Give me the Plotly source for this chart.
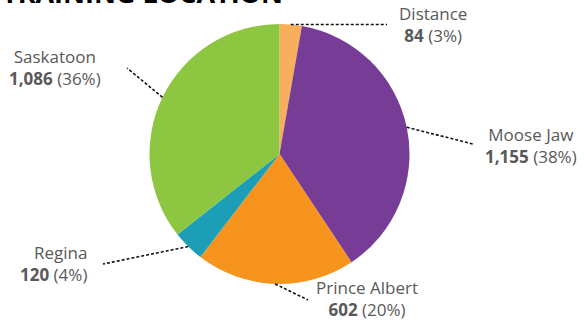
import numpy as np
import plotly.graph_objects as go

categories = ["Distance", "Moose Jaw", "Prince Albert", "Regina", "Saskatoon"]
values = [84, 1155, 602, 120, 1086]
colors = ["#F9AE5B", "#763C96", "#F7941D", "#1C9FB6", "#8DC641"]
title_text = "TRAINING LOCATION"

W, H = 584, 322
CX, CY, R = 279.5, 154.0, 130.0

def px(x):
    return x / W

def py(y):
    return 1 - y / H

# label layout (pixel positions of text and leader line ends)
label_pos = {
    "Distance": dict(x=433, y=25, xanchor="center", align="center", end=(387, 24.5)),
    "Moose Jaw": dict(x=531, y=145, xanchor="center", align="center", end=(473, 144)),
    "Prince Albert": dict(x=367, y=298, xanchor="center", align="center", end=(308, 300)),
    "Regina": dict(x=89, y=263, xanchor="right", align="right", end=(103, 264)),
    "Saskatoon": dict(x=55, y=67, xanchor="center", align="center", end=(127, 68)),
}

fig = go.Figure()
fig.add_trace(go.Pie(
    labels=categories, values=values, sort=False, direction="clockwise",
    marker=dict(colors=colors, line=dict(width=0)),
    textinfo="none", hoverinfo="label+value+percent", showlegend=False,
    domain=dict(x=[px(CX - R), px(CX + R)], y=[py(CY + R), py(CY - R)]),
))

total = sum(values)
cum = np.cumsum([0] + values)
shapes = []
annotations = []
for i, (cat, v) in enumerate(zip(categories, values)):
    mid = (cum[i] + v / 2) / total * 2 * np.pi
    sx = CX + R * np.sin(mid)
    sy = CY - R * np.cos(mid)
    lp = label_pos[cat]
    ex, ey = lp["end"]
    shapes.append(dict(type="line", xref="paper", yref="paper",
                       x0=px(sx), y0=py(sy), x1=px(ex), y1=py(ey),
                       line=dict(color="#111111", width=1.6, dash="3px,2px")))
    pct = round(v / total * 100)
    annotations.append(dict(
        xref="paper", yref="paper", x=px(lp["x"]), y=py(lp["y"]),
        xanchor=lp["xanchor"], yanchor="middle", align=lp["align"],
        text=f"{cat}<br><b>{v:,}</b> ({pct}%)", showarrow=False,
        font=dict(family="Open Sans", size=17, color="#595959"),
    ))

annotations.append(dict(
    xref="paper", yref="paper", x=px(285), y=py(13), xanchor="right", yanchor="bottom",
    text=f"<b>{title_text}</b>", showarrow=False,
    font=dict(family="Open Sans", size=27, color="#000000", weight=800),
))

fig.update_layout(
    width=W, height=H, margin=dict(l=0, r=0, t=0, b=0),
    paper_bgcolor="white", plot_bgcolor="white",
    shapes=shapes, annotations=annotations,
)

fig.write_html("out.html", config={"displayModeBar": False},
               post_script="document.body.style.margin='0';")
